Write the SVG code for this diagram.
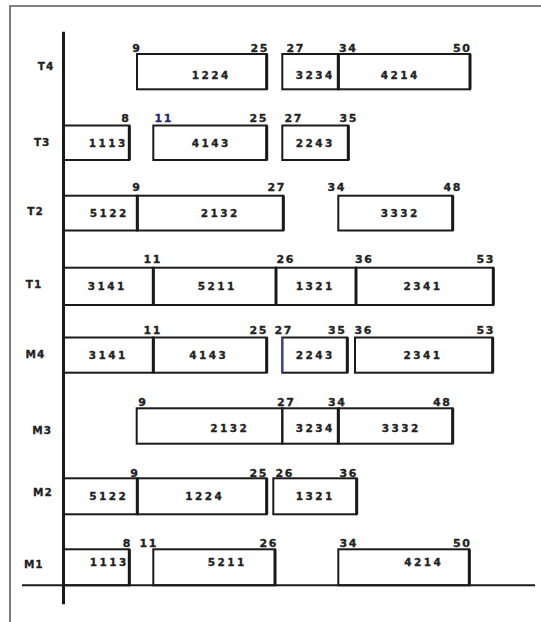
<svg xmlns="http://www.w3.org/2000/svg" width="541" height="622" viewBox="0 0 541 622">
<style>
.frame{stroke:#5a5a5a;stroke-width:1.6;fill:none}
.ax{stroke:#1a1a1a;fill:none}
.box{fill:none;stroke:#1a1a1a;stroke-width:2}
.re{stroke:#1a1a1a;stroke-width:3}
.bt{font-family:"DejaVu Sans",sans-serif;font-weight:bold;font-size:10.5px;letter-spacing:2.5px;text-anchor:middle;fill:#222;stroke:#222;stroke-width:0.3}
.tl{font-family:"DejaVu Sans",sans-serif;font-weight:bold;font-size:11px;letter-spacing:1.5px;text-anchor:middle;fill:#222;stroke:#222;stroke-width:0.3}
.rl{font-family:"DejaVu Sans",sans-serif;font-weight:bold;font-size:10.5px;letter-spacing:1px;text-anchor:middle;fill:#222;stroke:#222;stroke-width:0.3}
.blue{fill:#1f2a6e;stroke:#1f2a6e}
</style>
<rect x="0" y="0" width="541" height="622" fill="#fff"/>
<g id="frame">
<path class="frame" d="M10,622 V6 H541"/>
</g>
<g id="axes">
<line class="ax" x1="63.5" y1="31.7" x2="63.5" y2="604.3" stroke-width="3"/>
<line class="ax" x1="22" y1="585.3" x2="535" y2="585.3" stroke-width="2"/>
</g>

<g id="row-T4">
<text class="rl" x="46" y="70">T4</text>
<g id="T4-1224"><rect class="box" x="137" y="54" width="129.7" height="35.3"/><line class="re" x1="266.7" y1="54" x2="266.7" y2="89.3"/><text class="bt" x="211.25" y="78.5">1224</text><text class="tl" x="136.75" y="51.7">9</text><text class="tl" x="259.75" y="51.7">25</text></g>
<g id="T4-3234"><rect class="box" x="282.3" y="54" width="56" height="35.3"/><line class="re" x1="338.3" y1="54" x2="338.3" y2="89.3"/><text class="bt" x="315.25" y="78.5">3234</text><text class="tl" x="295.75" y="51.7">27</text></g>
<g id="T4-4214"><rect class="box" x="338.3" y="54" width="131.7" height="35.3"/><line class="re" x1="470" y1="54" x2="470" y2="89.3"/><text class="bt" x="400.25" y="78.5">4214</text><text class="tl" x="348.25" y="51.7">34</text><text class="tl" x="462.25" y="51.7">50</text></g>
</g>

<g id="row-T3">
<text class="rl" x="42.2" y="145.7">T3</text>
<g id="T3-1113"><rect class="box" x="64" y="125.5" width="65.3" height="34.5"/><line class="re" x1="129.3" y1="125.5" x2="129.3" y2="160"/><text class="bt" x="108.25" y="147">1113</text><text class="tl" x="125.75" y="122">8</text></g>
<g id="T3-4143"><rect class="box" x="153.3" y="125.5" width="113.4" height="34.5"/><line class="re" x1="266.7" y1="125.5" x2="266.7" y2="160"/><text class="bt" x="211.25" y="147">4143</text><text class="tl blue" x="163.75" y="122">11</text><text class="tl" x="258.75" y="122">25</text></g>
<g id="T3-2243"><rect class="box" x="282.3" y="125.5" width="66" height="34.5"/><line class="re" x1="348.3" y1="125.5" x2="348.3" y2="160"/><text class="bt" x="315.25" y="147">2243</text><text class="tl" x="293.75" y="122">27</text><text class="tl" x="348.75" y="122">35</text></g>
</g>

<g id="row-T2">
<text class="rl" x="35.5" y="215">T2</text>
<g id="T2-5122"><rect class="box" x="64" y="195.7" width="73.3" height="34.8"/><line class="re" x1="137.3" y1="195.7" x2="137.3" y2="230.5"/><text class="bt" x="109.25" y="216.5">5122</text></g>
<g id="T2-2132"><rect class="box" x="137.3" y="195.7" width="146" height="34.8"/><line class="re" x1="283.3" y1="195.7" x2="283.3" y2="230.5"/><text class="bt" x="220.25" y="216.5">2132</text><text class="tl" x="136.75" y="190.5">9</text><text class="tl" x="276.75" y="190.5">27</text></g>
<g id="T2-3332"><rect class="box" x="338.3" y="195.7" width="114.4" height="34.8"/><line class="re" x1="452.7" y1="195.7" x2="452.7" y2="230.5"/><text class="bt" x="400.25" y="216.5">3332</text><text class="tl" x="336.75" y="190.5">34</text><text class="tl" x="452.75" y="190.5">48</text></g>
</g>

<g id="row-T1">
<text class="rl" x="34" y="288.3">T1</text>
<g id="T1-3141"><rect class="box" x="64" y="267.7" width="89.3" height="37.3"/><line class="re" x1="153.3" y1="267.7" x2="153.3" y2="305"/><text class="bt" x="107.25" y="290">3141</text></g>
<g id="T1-5211"><rect class="box" x="153.3" y="267.7" width="122.7" height="37.3"/><line class="re" x1="276" y1="267.7" x2="276" y2="305"/><text class="bt" x="217.25" y="290">5211</text><text class="tl" x="152.75" y="262.5">11</text></g>
<g id="T1-1321"><rect class="box" x="276" y="267.7" width="80" height="37.3"/><line class="re" x1="356" y1="267.7" x2="356" y2="305"/><text class="bt" x="315.25" y="290">1321</text><text class="tl" x="285.75" y="262.5">26</text></g>
<g id="T1-2341"><rect class="box" x="356" y="267.7" width="137.3" height="37.3"/><line class="re" x1="493.3" y1="267.7" x2="493.3" y2="305"/><text class="bt" x="423" y="290">2341</text><text class="tl" x="364.25" y="262.5">36</text><text class="tl" x="485.75" y="262.5">53</text></g>
</g>

<g id="row-M4">
<text class="rl" x="35.5" y="357.7">M4</text>
<g id="M4-3141"><rect class="box" x="64" y="337.5" width="89.3" height="35.2"/><line class="re" x1="153.3" y1="337.5" x2="153.3" y2="372.7"/><text class="bt" x="108.25" y="358.5">3141</text></g>
<g id="M4-4143"><rect class="box" x="153.3" y="337.5" width="113.4" height="35.2"/><line class="re" x1="266.7" y1="337.5" x2="266.7" y2="372.7"/><text class="bt" x="208.75" y="358.5">4143</text><text class="tl" x="152.75" y="334">11</text><text class="tl" x="258.75" y="334">25</text></g>
<g id="M4-2243"><rect class="box" x="282.3" y="337.5" width="65" height="35.2"/><line x1="282.3" y1="337.5" x2="282.3" y2="372.7" stroke="#3f3fa0" stroke-width="2"/><line class="re" x1="347.3" y1="337.5" x2="347.3" y2="372.7"/><text class="bt" x="315.25" y="358.5">2243</text><text class="tl" x="283.75" y="334">27</text><text class="tl" x="337.25" y="334">35</text></g>
<g id="M4-2341"><rect class="box" x="355" y="337.5" width="137.7" height="35.2"/><line class="re" x1="492.7" y1="337.5" x2="492.7" y2="372.7"/><text class="bt" x="423" y="358.5">2341</text><text class="tl" x="363.75" y="334">36</text><text class="tl" x="485.75" y="334">53</text></g>
</g>

<g id="row-M3">
<text class="rl" x="42.2" y="434.3">M3</text>
<g id="M3-2132"><rect class="box" x="136.7" y="408.3" width="145.6" height="35.4"/><text class="bt" x="229.75" y="432">2132</text><text class="tl" x="142.75" y="406">9</text><text class="tl" x="286.25" y="406">27</text></g>
<g id="M3-3234"><rect class="box" x="282.3" y="408.3" width="56" height="35.4"/><line class="re" x1="338.3" y1="408.3" x2="338.3" y2="443.7"/><text class="bt" x="315.25" y="432">3234</text><text class="tl" x="337.25" y="406">34</text></g>
<g id="M3-3332"><rect class="box" x="338.3" y="408.3" width="114.4" height="35.4"/><line class="re" x1="452.7" y1="408.3" x2="452.7" y2="443.7"/><text class="bt" x="401.25" y="432">3332</text><text class="tl" x="442.25" y="406">48</text></g>
</g>

<g id="row-M2">
<text class="rl" x="43" y="496">M2</text>
<g id="M2-5122"><rect class="box" x="64" y="478.3" width="73.3" height="36"/><line class="re" x1="137.3" y1="478.3" x2="137.3" y2="514.3"/><text class="bt" x="108.75" y="500">5122</text></g>
<g id="M2-1224"><rect class="box" x="137.3" y="478.3" width="129.4" height="36"/><line class="re" x1="266.7" y1="478.3" x2="266.7" y2="514.3"/><text class="bt" x="204.75" y="500">1224</text><text class="tl" x="134.75" y="477">9</text><text class="tl" x="258.75" y="477">25</text></g>
<g id="M2-1321"><rect class="box" x="273.3" y="478.3" width="83.4" height="36"/><line class="re" x1="356.7" y1="478.3" x2="356.7" y2="514.3"/><text class="bt" x="315.25" y="500">1321</text><text class="tl" x="284.75" y="477">26</text><text class="tl" x="348.75" y="477">36</text></g>
</g>

<g id="row-M1">
<text class="rl" x="33.8" y="567.7">M1</text>
<g id="M1-1113"><rect class="box" x="64" y="549.3" width="65.3" height="36"/><line class="re" x1="129.3" y1="549.3" x2="129.3" y2="585.3"/><text class="bt" x="109.25" y="566">1113</text><text class="tl" x="127.25" y="546.5">8</text></g>
<g id="M1-5211"><rect class="box" x="153.3" y="549.3" width="121.7" height="36"/><line class="re" x1="275" y1="549.3" x2="275" y2="585.3"/><text class="bt" x="227.25" y="566">5211</text><text class="tl" x="148.75" y="546.5">11</text><text class="tl" x="268.75" y="546.5">26</text></g>
<g id="M1-4214"><rect class="box" x="338.3" y="549.3" width="131" height="36"/><line class="re" x1="469.3" y1="549.3" x2="469.3" y2="585.3"/><text class="bt" x="423.75" y="566">4214</text><text class="tl" x="348.75" y="546.5">34</text><text class="tl" x="462.25" y="546.5">50</text></g>
</g>
</svg>
